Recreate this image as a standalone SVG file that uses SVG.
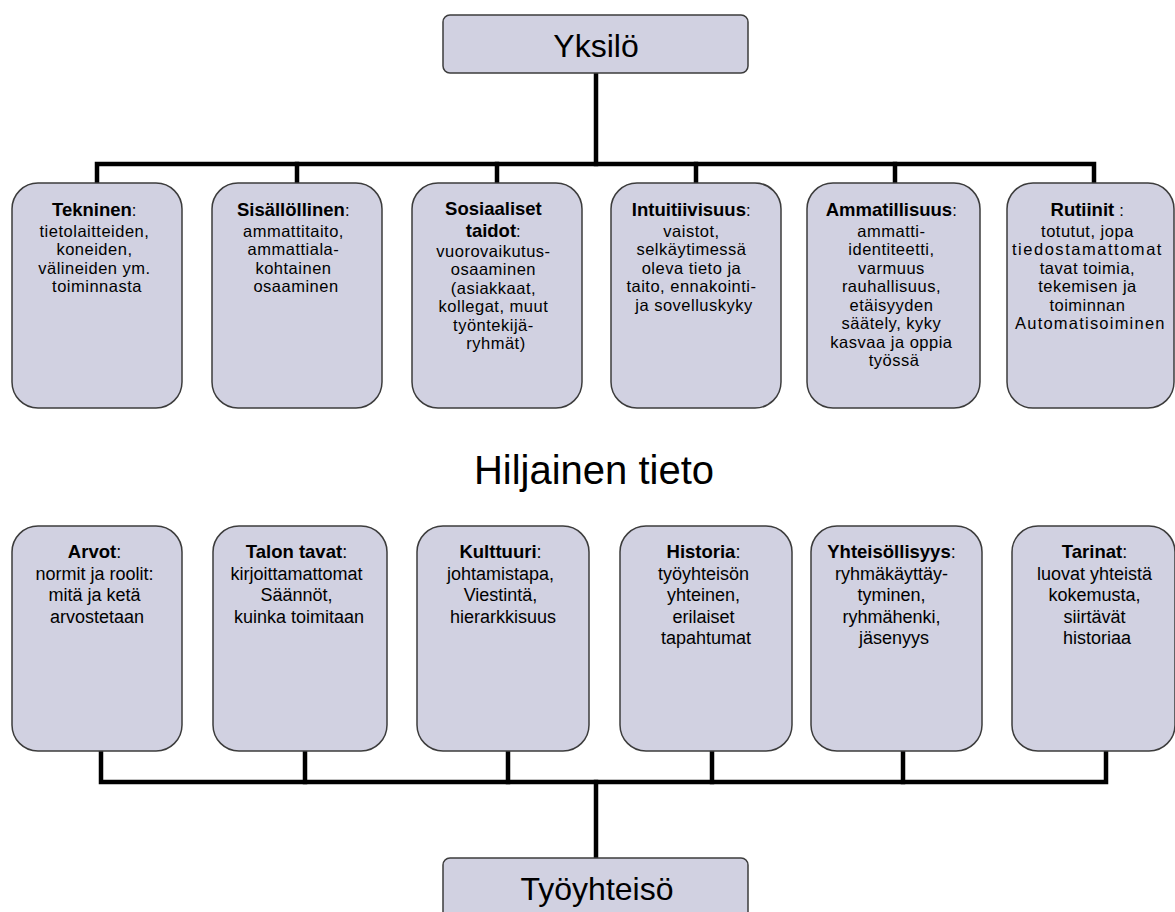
<svg xmlns="http://www.w3.org/2000/svg" width="1175" height="912" viewBox="0 0 1175 912">
  <style>
    .box { fill: #D1D1E1; stroke: #3c3c3c; stroke-width: 1.5; }
    .wire { fill: none; stroke: #000; stroke-width: 4.5; stroke-linecap: square; stroke-linejoin: miter; }
    .big { font-family: "Liberation Sans", Arial, sans-serif; fill: #000; text-anchor: middle; }
    .txt { font-family: "Liberation Sans", Arial, sans-serif; font-size: 18px; fill: #000; text-anchor: middle; }
    .up { font-size: 16.5px; letter-spacing: 0.5px; }
    .b { font-weight: bold; font-size: 18.5px; letter-spacing: 0; }
  </style>
  <rect width="1175" height="912" fill="#fff"/>

  <!-- connectors -->
  <g id="connectors" class="wire">
    <!-- upper tree -->
    <path d="M596 73 V164"/>
    <path d="M97 183 V164 H1094 V183"/>
    <path d="M297 164 V183 M497 164 V183 M696 164 V183 M895 164 V183"/>
    <!-- lower tree -->
    <path d="M101 751 V782 H1106 V751"/>
    <path d="M305 751 V782 M508 751 V782 M712 751 V782 M903 751 V782"/>
    <path d="M596 782 V858"/>
  </g>

  <!-- root -->
  <g id="yksilo">
    <rect class="box" x="443" y="15" width="305" height="58" rx="7"/>
    <text class="big" x="596" y="57" font-size="32">Yksilö</text>
  </g>

  <!-- upper row -->
  <g id="tekninen">
    <rect class="box" x="12" y="183" width="170" height="225" rx="26"/>
    <text class="txt up">
      <tspan x="97" y="216"><tspan class="b">Tekninen</tspan>:</tspan>
      <tspan x="97" y="236.5">tietolaitteiden,</tspan>
      <tspan x="97" y="255">koneiden,</tspan>
      <tspan x="97" y="273.5">välineiden ym.</tspan>
      <tspan x="97" y="292">toiminnasta</tspan>
    </text>
  </g>
  <g id="sisallollinen">
    <rect class="box" x="212" y="183" width="170" height="225" rx="26"/>
    <text class="txt up">
      <tspan x="296" y="216"><tspan class="b">Sisällöllinen</tspan>:</tspan>
      <tspan x="296" y="236.5">ammattitaito,</tspan>
      <tspan x="296" y="255">ammattiala-</tspan>
      <tspan x="296" y="273.5">kohtainen</tspan>
      <tspan x="296" y="292">osaaminen</tspan>
    </text>
  </g>
  <g id="sosiaaliset">
    <rect class="box" x="412" y="183" width="170" height="225" rx="26"/>
    <text class="txt up">
      <tspan x="496" y="215" class="b">Sosiaaliset</tspan>
      <tspan x="496" y="237"><tspan class="b">taidot</tspan>:</tspan>
      <tspan x="496" y="256.5">vuorovaikutus-</tspan>
      <tspan x="496" y="275">osaaminen</tspan>
      <tspan x="496" y="293.5">(asiakkaat,</tspan>
      <tspan x="496" y="312">kollegat, muut</tspan>
      <tspan x="496" y="330.5">työntekijä-</tspan>
      <tspan x="496" y="349">ryhmät)</tspan>
    </text>
  </g>
  <g id="intuitiivisuus">
    <rect class="box" x="611" y="183" width="170" height="225" rx="26"/>
    <text class="txt up">
      <tspan x="694" y="216"><tspan class="b">Intuitiivisuus</tspan>:</tspan>
      <tspan x="694" y="236.5">vaistot,</tspan>
      <tspan x="694" y="255">selkäytimessä</tspan>
      <tspan x="694" y="273.5">oleva tieto ja</tspan>
      <tspan x="694" y="292">taito, ennakointi-</tspan>
      <tspan x="694" y="310.5">ja sovelluskyky</tspan>
    </text>
  </g>
  <g id="ammatillisuus">
    <rect class="box" x="807" y="183" width="173" height="225" rx="26"/>
    <text class="txt up">
      <tspan x="894" y="216"><tspan class="b">Ammatillisuus</tspan>:</tspan>
      <tspan x="894" y="236.5">ammatti-</tspan>
      <tspan x="894" y="255">identiteetti,</tspan>
      <tspan x="894" y="273.5">varmuus</tspan>
      <tspan x="894" y="292">rauhallisuus,</tspan>
      <tspan x="894" y="310.5">etäisyyden</tspan>
      <tspan x="894" y="329">säätely, kyky</tspan>
      <tspan x="894" y="347.5">kasvaa ja oppia</tspan>
      <tspan x="894" y="366">työssä</tspan>
    </text>
  </g>
  <g id="rutiinit">
    <rect class="box" x="1007" y="183" width="167" height="225" rx="26"/>
    <text class="txt up">
      <tspan x="1090" y="216"><tspan class="b">Rutiinit</tspan> :</tspan>
      <tspan x="1090" y="236.5">totutut, jopa</tspan>
      <tspan x="1090" y="255" textLength="150" lengthAdjust="spacing">tiedostamattomat</tspan>
      <tspan x="1090" y="273.5">tavat toimia,</tspan>
      <tspan x="1090" y="292">tekemisen ja</tspan>
      <tspan x="1090" y="310.5">toiminnan</tspan>
      <tspan x="1090" y="329" textLength="150" lengthAdjust="spacing">Automatisoiminen</tspan>
    </text>
  </g>

  <!-- middle heading -->
  <g id="hiljainen-tieto">
    <text class="big" x="594" y="484" font-size="40">Hiljainen tieto</text>
  </g>

  <!-- lower row -->
  <g id="arvot">
    <rect class="box" x="12" y="526" width="170" height="225" rx="26"/>
    <text class="txt">
      <tspan x="97" y="558"><tspan class="b">Arvot</tspan>:</tspan>
      <tspan x="97" y="579.5">normit ja roolit:</tspan>
      <tspan x="97" y="601">mitä ja ketä</tspan>
      <tspan x="97" y="622.5">arvostetaan</tspan>
    </text>
  </g>
  <g id="talon-tavat">
    <rect class="box" x="213" y="526" width="174" height="225" rx="26"/>
    <text class="txt">
      <tspan x="299" y="558"><tspan class="b">Talon tavat</tspan>:</tspan>
      <tspan x="299" y="579.5">kirjoittamattomat</tspan>
      <tspan x="299" y="601">Säännöt,</tspan>
      <tspan x="299" y="622.5">kuinka toimitaan</tspan>
    </text>
  </g>
  <g id="kulttuuri">
    <rect class="box" x="417" y="526" width="172" height="225" rx="26"/>
    <text class="txt">
      <tspan x="503" y="558"><tspan class="b">Kulttuuri</tspan>:</tspan>
      <tspan x="503" y="579.5">johtamistapa,</tspan>
      <tspan x="503" y="601">Viestintä,</tspan>
      <tspan x="503" y="622.5">hierarkkisuus</tspan>
    </text>
  </g>
  <g id="historia">
    <rect class="box" x="620" y="526" width="172" height="225" rx="26"/>
    <text class="txt">
      <tspan x="706" y="558"><tspan class="b">Historia</tspan>:</tspan>
      <tspan x="706" y="579.5">työyhteisön</tspan>
      <tspan x="706" y="601">yhteinen,</tspan>
      <tspan x="706" y="622.5">erilaiset</tspan>
      <tspan x="706" y="644">tapahtumat</tspan>
    </text>
  </g>
  <g id="yhteisollisyys">
    <rect class="box" x="811" y="526" width="171" height="225" rx="26"/>
    <text class="txt">
      <tspan x="894" y="558"><tspan class="b">Yhteisöllisyys</tspan>:</tspan>
      <tspan x="894" y="579.5">ryhmäkäyttäy-</tspan>
      <tspan x="894" y="601">tyminen,</tspan>
      <tspan x="894" y="622.5">ryhmähenki,</tspan>
      <tspan x="894" y="644">jäsenyys</tspan>
    </text>
  </g>
  <g id="tarinat">
    <rect class="box" x="1012" y="526" width="163" height="225" rx="26"/>
    <text class="txt">
      <tspan x="1097" y="558"><tspan class="b">Tarinat</tspan>:</tspan>
      <tspan x="1097" y="579.5">luovat yhteistä</tspan>
      <tspan x="1097" y="601">kokemusta,</tspan>
      <tspan x="1097" y="622.5">siirtävät</tspan>
      <tspan x="1097" y="644">historiaa</tspan>
    </text>
  </g>

  <!-- bottom node -->
  <g id="tyoyhteiso">
    <rect class="box" x="443" y="858" width="305" height="70" rx="7"/>
    <text class="big" x="597" y="900" font-size="32">Työyhteisö</text>
  </g>
</svg>
